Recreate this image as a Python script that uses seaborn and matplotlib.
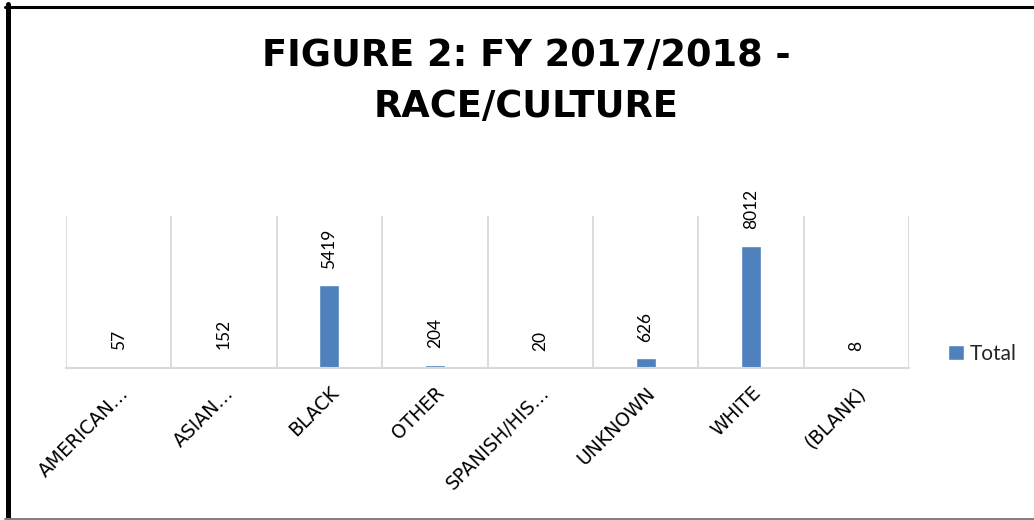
import matplotlib
matplotlib.use("Agg")
import matplotlib.pyplot as plt
import seaborn as sns
import numpy as np
from matplotlib.lines import Line2D

# data
categories = ["AMERICAN…", "ASIAN…", "BLACK", "OTHER", "SPANISH/HIS…", "UNKNOWN", "WHITE", "(BLANK)"]
totals = [57, 152, 5419, 204, 20, 626, 8012, 8]
series_name = "Total"
title = "FIGURE 2: FY 2017/2018 -\nRACE/CULTURE"

sns.set_theme(style="white")
plt.rcParams['font.family'] = ['Lato', 'DejaVu Sans']

fig = plt.figure(figsize=(10.34, 5.2), dpi=100)
ax = fig.add_axes([66 / 1034, 1 - 368 / 520, 843 / 1034, 152.3 / 520])

bar_color = "#4F81BD"
sns.barplot(x=categories, y=totals, color=bar_color, width=0.19, saturation=1,
            label=series_name, ax=ax)

ax.bar_label(ax.containers[0], labels=[str(v) for v in totals], rotation=90,
             padding=12, fontsize=12.5, color="#000000")

ax.set_xlim(-0.5, len(categories) - 0.5)
ax.set_ylim(0, 10000)
ax.set_yticks([])
ax.set_xticks(np.arange(-0.5, len(categories), 1), minor=True)
ax.grid(False)
ax.grid(which="minor", axis="x", color="#D9D9D9", linewidth=1.3)
ax.tick_params(axis="x", which="both", length=0, pad=11)
ax.set_xticks(range(len(categories)))
ax.set_xticklabels(categories, rotation=45, ha="right", rotation_mode="anchor",
                   fontsize=13.5, color="#000000")
for lbl in ax.get_xticklabels():
    lbl.set_fontfamily(["DejaVu Sans"])
for s in ["left", "top", "right"]:
    ax.spines[s].set_visible(False)
ax.spines["bottom"].set_color("#D9D9D9")
ax.spines["bottom"].set_linewidth(1.5)
ax.set_xlabel("")
ax.set_ylabel("")
if ax.get_legend() is not None:
    ax.get_legend().remove()

handles, labels = ax.get_legend_handles_labels()
fig.legend(handles, labels, loc="center left", bbox_to_anchor=(948 / 1034, 1 - 354 / 520),
           frameon=False, fontsize=15, handlelength=0.75, handleheight=0.75,
           handletextpad=0.3, borderpad=0, borderaxespad=0)

fig.text(526 / 1034, 1 - 81 / 520, title, ha="center", va="center", fontsize=26.5,
         fontweight="bold", color="#000000", linespacing=1.45, family="DejaVu Sans")

# frame around the chart
fig.add_artist(Line2D([7.5 / 1034, 7.5 / 1034], [0, 1 - 4 / 520], color="black", lw=3.6,
                      transform=fig.transFigure))
fig.add_artist(Line2D([5 / 1034, 1], [1 - 6.5 / 520, 1 - 6.5 / 520], color="black", lw=2.2,
                      transform=fig.transFigure))
fig.add_artist(Line2D([5 / 1034, 1], [1.5 / 520, 1.5 / 520], color="#7F7F7F", lw=1.4,
                      transform=fig.transFigure))

fig.savefig("out.png", dpi=100)
